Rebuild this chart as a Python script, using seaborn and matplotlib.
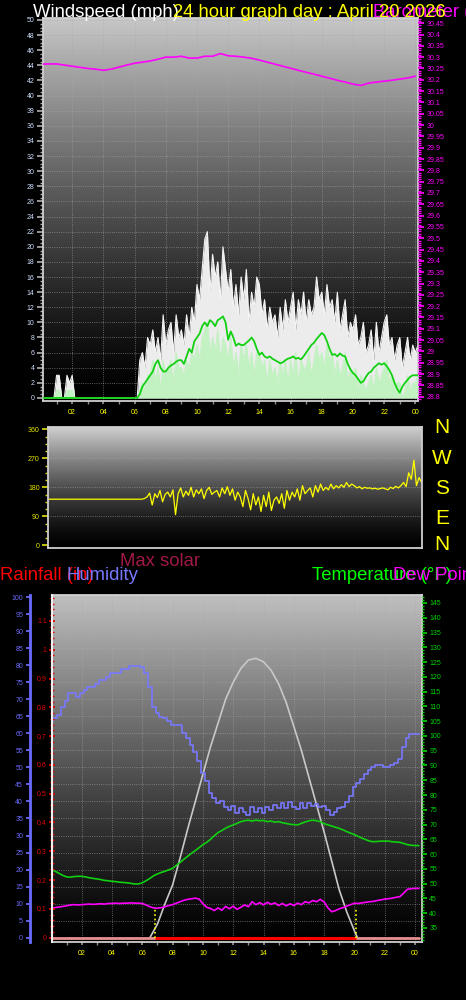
from __future__ import annotations

import matplotlib

matplotlib.use("Agg")

import matplotlib.pyplot as plt
import numpy as np
import pandas as pd
import seaborn as sns
from matplotlib.ticker import FixedLocator, FuncFormatter, MultipleLocator

FIG_W, FIG_H = 466, 1000

# ---- wind (10 minute samples, 00:00 .. 24:10) ----
GUST_MPH = [
    0, 0, 0, 0, 0, 0,
    3, 3, 0, 0, 3, 2,
    3, 0, 0, 0, 0, 0,
    0, 0, 0, 0, 0, 0,
    0, 0, 0, 0, 0, 0,
    0, 0, 0, 0, 0, 0,
    0, 0, 5, 6, 4, 8,
    7, 9, 6, 8, 5, 11,
    7, 9, 10, 6, 11, 8,
    9, 7, 11, 8, 12, 10,
    15, 13, 17, 21, 22, 14,
    19, 16, 18, 13, 20, 17,
    14, 17, 12, 15, 11, 16,
    13, 17, 10, 14, 12, 16,
    15, 11, 13, 9, 12, 10,
    11, 8, 12, 9, 13, 10,
    12, 14, 9, 13, 11, 14,
    10, 13, 11, 12, 16, 13,
    14, 11, 15, 12, 13, 10,
    14, 9, 11, 13, 8, 10,
    9, 11, 7, 8, 10, 6,
    7, 9, 5, 10, 6, 8,
    10, 11, 7, 8, 5, 7,
    8, 4, 6, 8, 5, 7,
    6, 7,
]
SPEED_MPH = [
    0, 0, 0, 0, 0, 0,
    1, 1, 0, 0, 1, 1,
    1, 0, 0, 0, 0, 0,
    0, 0, 0, 0, 0, 0,
    0, 0, 0, 0, 0, 0,
    0, 0, 0, 0, 0, 0,
    0, 0, 1, 2, 1, 3,
    3, 5, 2, 4, 1, 5,
    3, 4, 5, 2, 6, 4,
    4, 3, 5, 4, 6, 5,
    7, 5, 8, 9, 10, 6,
    8, 6, 9, 5, 8, 7,
    5, 8, 4, 6, 3, 7,
    5, 7, 4, 6, 3, 6,
    6, 4, 5, 2, 5, 3,
    4, 2, 5, 3, 5, 2,
    5, 3, 6, 2, 5, 4,
    4, 6, 3, 5, 7, 5,
    6, 4, 7, 5, 6, 3,
    5, 3, 4, 6, 2, 4,
    3, 4, 1, 3, 2, 1,
    2, 3, 1, 4, 2, 3,
    4, 5, 2, 3, 1, 2,
    2, 0, 1, 3, 1, 2,
    2, 3,
]
AVG_MPH = [
    0, 0, 0, 0, 0, 0,
    0, 0, 0, 0, 0, 0,
    0, 0, 0, 0, 0, 0,
    0, 0, 0, 0, 0, 0,
    0, 0, 0, 0, 0, 0,
    0, 0, 0, 0, 0, 0,
    0, 0, 0.5, 1.5, 2, 2.5,
    3, 3.5, 4.5, 5, 4, 3.5,
    3.5, 4, 4.3, 4.5, 4.8, 5,
    5, 4.5, 5.5, 6.5, 6, 7.5,
    8, 8.5, 9.5, 10, 9.5, 10.3,
    10, 9.5, 10.3, 10.5, 10.8, 10,
    7.7, 8.8, 8, 6.9, 7.2, 7,
    7, 7.3, 7.6, 8, 7.5, 6.5,
    5.7, 6, 5.5, 5.3, 5.5, 5.2,
    5, 4.8, 4.6, 4.7, 5, 5.2,
    5.3, 5.5, 5.2, 5.3, 5.1, 5.5,
    6, 6.5, 7, 7.3, 7.8, 8.2,
    8.6, 8.3, 7.5, 6.5, 5.7, 5.8,
    5.5, 5.9, 5.6, 5.5, 4.5, 3.8,
    3.3, 3, 2.5, 2, 2.2, 2.8,
    3.3, 3.5, 4, 4.3, 4.6, 4.4,
    4.6, 4.2, 3.7, 3, 2, 1.2,
    0.7, 1.5, 2, 2.4, 2.8, 3,
    3, 3,
]
DIRECTION_DEG = [
    143, 143, 143, 143, 143, 143,
    143, 143, 143, 143, 143, 143,
    143, 143, 143, 143, 143, 143,
    143, 143, 143, 143, 143, 143,
    143, 143, 143, 143, 143, 143,
    143, 143, 143, 143, 143, 143,
    143, 143, 145, 150, 162, 125,
    160, 148, 170, 135, 158, 165,
    150, 172, 95, 160, 178, 150,
    168, 155, 180, 150, 172, 160,
    175, 145, 170, 180, 158, 165,
    170, 150, 178, 160, 182, 155,
    175, 140, 165, 150, 120, 170,
    145, 110, 160, 125, 150, 105,
    155, 120, 165, 108, 140, 150,
    130, 160, 115, 170, 140, 165,
    150, 175, 140, 185, 160, 170,
    178, 150, 185, 165, 190, 170,
    180, 172, 190, 175, 185, 178,
    188, 180, 195, 182, 190, 185,
    178, 182, 175, 180, 177, 178,
    175, 177, 174, 176, 178, 175,
    172, 180, 176, 183, 178, 185,
    195, 182, 225, 205, 264, 185,
    210, 195,
]

# ---- barometer (30 minute samples, 00:00 .. 24:00) ----
PRESSURE_INHG = [
    30.269, 30.270, 30.270, 30.265, 30.260, 30.255, 30.250, 30.247,
    30.242, 30.247, 30.256, 30.265, 30.273, 30.278, 30.283, 30.291,
    30.300, 30.300, 30.304, 30.296, 30.296, 30.304, 30.304, 30.316,
    30.306, 30.304, 30.300, 30.295, 30.287, 30.278, 30.269, 30.260,
    30.251, 30.242, 30.233, 30.225, 30.216, 30.207, 30.198, 30.190,
    30.181, 30.175, 30.185, 30.190, 30.194, 30.198, 30.203, 30.208,
    30.216,
]

# ---- humidity / temperature / dew point (15 minute samples, 00:00 .. 24:15) ----
HUMIDITY_PCT = [
    63.5, 64.5, 65.5, 67.8, 69.5, 71.7, 71.7, 70.7,
    71.7, 72.6, 73.7, 73.7, 74.6, 75.6, 75.6, 76.6,
    77.6, 77.6, 77.6, 78.8, 78.8, 79.7, 79.7, 79.7,
    79.4, 77.6, 73.7, 67.8, 66.0, 64.9, 64.4, 63.5,
    62.4, 62.4, 62.4, 60.0, 58.5, 56.5, 54.5, 52.0,
    48.3, 46.0, 42.5, 41.0, 39.4, 40.0, 38.5, 37.5,
    38.8, 36.5, 38.0, 37.0, 36.0, 38.5, 36.8, 38.0,
    36.5, 38.5, 37.5, 39.0, 38.0, 39.5, 38.2, 39.8,
    38.5, 37.8, 39.5, 38.2, 39.6, 38.8, 39.2, 38.5,
    38.8, 37.5, 36.0, 37.0, 38.0, 38.5, 39.9, 41.5,
    44.3, 45.5, 46.5, 48.0, 49.2, 50.0, 50.7, 50.7,
    50.2, 50.2, 50.7, 51.2, 52.5, 56.0, 58.5, 59.7,
    59.7, 59.7,
]
TEMPERATURE_F = [
    54.8, 54.2, 53.5, 52.8, 52.3, 52.2, 52.4, 52.5,
    52.5, 52.3, 52.0, 51.8, 51.6, 51.4, 51.1, 51.0,
    50.8, 50.7, 50.5, 50.4, 50.3, 50.1, 49.9, 49.9,
    50.3, 51.0, 51.8, 52.7, 53.3, 53.8, 54.2, 54.7,
    55.2, 56.2, 57.2, 58.3, 59.3, 60.3, 61.2, 62.2,
    63.2, 64.0, 65.0, 66.2, 67.3, 68.0, 68.8, 69.4,
    69.9, 70.4, 71.0, 71.3, 71.5, 71.2, 71.5, 71.3,
    71.4, 71.0, 71.2, 70.8, 71.0, 70.6, 70.4, 70.1,
    70.0, 69.9, 70.4, 70.9, 71.3, 71.5, 71.3, 71.0,
    70.3, 69.9, 69.5, 69.1, 68.7, 68.2, 67.6, 67.1,
    66.6, 66.0, 65.4, 64.9, 64.4, 64.2, 64.3, 64.4,
    64.4, 64.4, 64.2, 64.1, 64.0, 63.6, 63.2, 63.0,
    62.9, 62.9,
]
DEW_POINT_F = [
    41.7, 41.9, 42.1, 42.3, 42.5, 42.8, 42.9, 42.8,
    42.9, 43.0, 43.1, 43.0, 43.1, 43.2, 43.1, 43.3,
    43.3, 43.4, 43.3, 43.4, 43.4, 43.5, 43.4, 43.4,
    43.3, 42.8, 42.2, 41.8, 41.7, 41.9, 42.2, 42.6,
    42.9, 43.4, 43.9, 44.4, 44.7, 44.9, 45.1, 44.8,
    43.2, 42.0, 41.6, 40.9, 41.8, 41.0, 42.3, 41.5,
    42.4, 41.3, 42.0, 42.8, 42.2, 43.9, 42.9, 43.6,
    42.8, 43.7, 43.0, 43.5, 42.6, 43.3, 42.5, 43.2,
    42.6, 43.4, 42.9, 43.9, 43.5, 44.3, 43.9, 44.7,
    43.8, 41.8, 40.5, 40.9, 41.5, 41.9, 42.4, 42.9,
    43.4, 43.3, 43.5, 43.7, 43.9, 44.0, 44.3, 44.5,
    44.8, 44.9, 45.1, 45.4, 45.6, 46.8, 48.1, 48.3,
    48.4, 48.4,
]

# ---- max solar (W/m2) ----
SOLAR_HOURS = [
    6.5, 7.0, 7.5, 8.0, 8.5, 9.0, 9.5, 10.0, 10.5, 11.0, 11.5, 12.0, 12.5, 13.0,
    13.5, 14.0, 14.5, 15.0, 15.5, 16.0, 16.5, 17.0, 17.5, 18.0, 18.5, 19.0, 19.5,
    20.0, 20.2,
]
SOLAR_WM2 = [
    0, 40, 100, 155, 235, 320, 400, 480, 560, 630, 700, 750, 790, 815,
    820, 810, 785, 745, 690, 620, 550, 470, 390, 310, 225, 140, 75,
    20, 0,
]

# ---- rainfall ----
RAIN_HOURS = [0.0, 24.25]
RAIN_IN = [0.0, 0.0]
SUNRISE_HOUR = 6.85
SUNSET_HOUR = 20.1

HOUR_TICKS = [2, 4, 6, 8, 10, 12, 14, 16, 18, 20, 22, 24]
HOUR_LABELS = ["02", "04", "06", "08", "10", "12", "14", "16", "18", "20", "22", "00"]
COMPASS = ["N", "W", "S", "E", "N"]

GRID = dict(color="#a8a8a8", linestyle=":", linewidth=0.6, alpha=0.7)
FRAME = "#cfcfcf"


def rect(left, top, right, bottom):
    """Axes box from pixel edges (origin at top-left)."""
    return [left / FIG_W, 1 - bottom / FIG_H, (right - left) / FIG_W, (bottom - top) / FIG_H]


def gradient_panel(fig, box, top_shade, gamma):
    bg = fig.add_axes(box, zorder=0)
    ramp = np.linspace(0.0, 1.0, 256)[:, None]
    bg.imshow(top_shade * (1 - ramp) ** gamma, cmap="gray", vmin=0, vmax=1,
              aspect="auto", interpolation="bilinear", extent=(0, 1, 0, 1))
    bg.set_axis_off()
    ax = fig.add_axes(box, zorder=1)
    ax.set_facecolor("none")
    return ax


def hour_axis(ax, labels=True):
    ax.xaxis.set_major_locator(FixedLocator(HOUR_TICKS))
    ax.xaxis.set_major_formatter(FuncFormatter(lambda v, _: HOUR_LABELS[HOUR_TICKS.index(int(round(v)))]))
    ax.xaxis.set_minor_locator(MultipleLocator(1))
    ax.tick_params(axis="x", which="both", colors="#909090", labelcolor="#ffff00",
                   labelsize=5, length=2, pad=3.5, labelbottom=labels)


def frame(ax, color=FRAME, width=1.3):
    for spine in ax.spines.values():
        spine.set_color(color)
        spine.set_linewidth(width)


def hide_spines(ax):
    for spine in ax.spines.values():
        spine.set_visible(False)


def trim_number(v, _=None):
    return f"{round(v, 2):.2f}".rstrip("0").rstrip(".")


sns.set_theme(style="ticks")
plt.rcParams["font.family"] = ["Liberation Sans", "DejaVu Sans"]

fig = plt.figure(figsize=(FIG_W / 100, FIG_H / 100), dpi=100, facecolor="black")

# ---------------- windspeed / barometer ----------------
wind = pd.DataFrame({
    "hour": np.arange(len(GUST_MPH)) / 6,
    "gust": GUST_MPH,
    "speed": SPEED_MPH,
    "avg": AVG_MPH,
})
baro = pd.DataFrame({"hour": np.arange(len(PRESSURE_INHG)) / 2, "inhg": PRESSURE_INHG})

ax1 = gradient_panel(fig, rect(43, 18, 418, 401), 0.78, 1.3)
ax1.grid(True, **GRID)
ax1.set_axisbelow(True)
ax1.fill_between(wind["hour"], 0, wind["gust"], color="#ececec", linewidth=0, zorder=2)
sns.lineplot(data=wind, x="hour", y="gust", color="#f4f4f4", linewidth=0.8, ax=ax1, zorder=2)
ax1.fill_between(wind["hour"], 0, wind["speed"], color="#c2f2c2", linewidth=0, zorder=3)
sns.lineplot(data=wind, x="hour", y="speed", color="#c2f2c2", linewidth=0.8, ax=ax1, zorder=3)
sns.lineplot(data=wind, x="hour", y="avg", color="#12d012", linewidth=1.3, ax=ax1, zorder=4)
ax1.set(xlabel="", ylabel="", xlim=(0.13, 24.17), ylim=(-0.4, 50.26))
ax1.yaxis.set_major_locator(MultipleLocator(2))
ax1.yaxis.set_minor_locator(MultipleLocator(0.5))
ax1.tick_params(axis="y", which="both", colors="#a8a8a8", labelcolor="#cfe0ff", labelsize=5, pad=2)
ax1.tick_params(axis="y", which="major", length=4)
ax1.tick_params(axis="y", which="minor", length=2)
hour_axis(ax1)
frame(ax1)

ax1p = ax1.twinx()
ax1p.set_zorder(2)
sns.lineplot(data=baro, x="hour", y="inhg", color="#ff00ff", linewidth=1.2, ax=ax1p)
ax1p.set(ylabel="", ylim=(28.781, 30.473))
ax1p.yaxis.set_major_locator(MultipleLocator(0.05))
ax1p.yaxis.set_minor_locator(MultipleLocator(0.01))
ax1p.yaxis.set_major_formatter(FuncFormatter(trim_number))
ax1p.tick_params(axis="y", which="both", colors="#ff00ff", labelsize=5, pad=2)
ax1p.tick_params(axis="y", which="major", length=4)
ax1p.tick_params(axis="y", which="minor", length=2)
hide_spines(ax1p)

# ---------------- wind direction ----------------
ax2 = gradient_panel(fig, rect(48, 427, 421.7, 548), 0.82, 1.4)
for level in (90, 180, 270):
    ax2.axhline(level, **GRID)
sns.lineplot(data=wind.assign(direction=DIRECTION_DEG), x="hour", y="direction",
             color="#ffff00", linewidth=0.9, ax=ax2)
ax2.set(xlabel="", ylabel="", xlim=(0.13, 24.17), ylim=(-8.4, 367))
ax2.yaxis.set_major_locator(FixedLocator([0, 90, 180, 270, 360]))
ax2.yaxis.set_minor_locator(MultipleLocator(22.5))
ax2.tick_params(axis="y", which="both", colors="#d8d800", labelcolor="#e8e800", labelsize=5, pad=2)
ax2.tick_params(axis="y", which="major", length=4)
ax2.tick_params(axis="y", which="minor", length=2)
ax2.tick_params(axis="x", which="both", bottom=False, labelbottom=False)
frame(ax2)

for label, y_px in zip(COMPASS, [428, 458, 488, 518, 544]):
    fig.text(442 / FIG_W, 1 - y_px / FIG_H, label, color="#ffff00", fontsize=15,
             ha="center", va="center")

# ---------------- humidity / temperature / rain / solar ----------------
air = pd.DataFrame({
    "hour": np.arange(len(HUMIDITY_PCT)) / 4,
    "humidity": HUMIDITY_PCT,
    "temperature": TEMPERATURE_F,
    "dew": DEW_POINT_F,
})
solar = pd.DataFrame({"hour": SOLAR_HOURS, "wm2": SOLAR_WM2})
rain = pd.DataFrame({"hour": RAIN_HOURS, "inches": RAIN_IN})

ax3 = gradient_panel(fig, rect(51.7, 595, 421.7, 942), 0.75, 1.2)
ax3.grid(True, **GRID)
ax3.set(xlim=(0.02, 24.44), ylim=(-1.26, 100.6))
ax3.yaxis.set_major_locator(MultipleLocator(5))
ax3.tick_params(axis="y", which="major", colors="#6b6bff", labelsize=5, length=3, pad=2)
hour_axis(ax3)
frame(ax3)
ax3.spines["left"].set_position(("outward", 21.7 * 0.72))
ax3.spines["left"].set_color("#6b6bff")
ax3.spines["left"].set_linewidth(2)

ax3s = ax3.twinx()
ax3s.set_zorder(2)
sns.lineplot(data=solar, x="hour", y="wm2", color="#c8c8c8", linewidth=1.2, ax=ax3s)
ax3s.set_ylim(-12.6, 1006)
ax3s.set_axis_off()

ax3h = ax3.twinx()
ax3h.set_zorder(3)
sns.lineplot(data=air, x="hour", y="humidity", drawstyle="steps-mid", color="#7878ff", linewidth=1.2, ax=ax3h)
ax3h.set_ylim(ax3.get_ylim())
ax3h.set_axis_off()

ax3t = ax3.twinx()
ax3t.set_zorder(4)
sns.lineplot(data=air, x="hour", y="temperature", color="#10d010", linewidth=1.2, ax=ax3t)
sns.lineplot(data=air, x="hour", y="dew", color="#ff00ff", linewidth=1.2, ax=ax3t)
ax3t.set(ylabel="", ylim=(30.26, 147.7))
ax3t.yaxis.set_major_locator(MultipleLocator(5))
ax3t.yaxis.set_minor_locator(MultipleLocator(1))
ax3t.tick_params(axis="y", which="both", colors="#00d000", labelsize=5, pad=2)
ax3t.tick_params(axis="y", which="major", length=3.5)
ax3t.tick_params(axis="y", which="minor", length=1.5)
hide_spines(ax3t)

ax3r = ax3.twinx()
ax3r.set_zorder(5)
ax3r.yaxis.tick_left()
sns.lineplot(data=rain, x="hour", y="inches", color="#e89090", linewidth=2, ax=ax3r)
ax3r.hlines(0, SUNRISE_HOUR, SUNSET_HOUR, color="#ff0000", linewidth=2.2)
ax3r.vlines([SUNRISE_HOUR, SUNSET_HOUR], 0, 0.105, colors="#ffff00", linestyles=":", linewidth=1.2)
ax3r.set(ylabel="", ylim=(-0.015, 1.19))
ax3r.yaxis.set_major_locator(MultipleLocator(0.1))
ax3r.yaxis.set_minor_locator(MultipleLocator(0.02))
ax3r.yaxis.set_major_formatter(FuncFormatter(trim_number))
ax3r.tick_params(axis="y", which="both", colors="#e00000", labelsize=5, direction="inout", pad=1.5)
ax3r.tick_params(axis="y", which="major", length=4)
ax3r.tick_params(axis="y", which="minor", length=3)
hide_spines(ax3r)
ax3r.spines["left"].set_visible(True)
ax3r.spines["left"].set_color("#eeeeee")
ax3r.spines["left"].set_linewidth(1.5)

# ---------------- headings ----------------
def heading(x_px, y_px, text, color):
    fig.text(x_px / FIG_W, 1 - y_px / FIG_H, text, color=color, fontsize=13.3, va="baseline")


heading(33, 17, "Windspeed (mph)", "#ffffff")
heading(373, 17, "Barometer (inHg)", "#ff00ff")
heading(173, 17, "24 hour graph day : April 20 2026", "#ffff00")
heading(120, 565.5, "Max solar", "#a01848")
heading(0, 580, "Rainfall (in)", "#ff0000")
heading(66, 580, "Humidity", "#7878ff")
heading(312, 580, "Temperature (°F)", "#00ff00")
heading(393, 580, "Dew Point (°F)", "#ff00ff")

fig.savefig("out.png", dpi=100, facecolor="black")
